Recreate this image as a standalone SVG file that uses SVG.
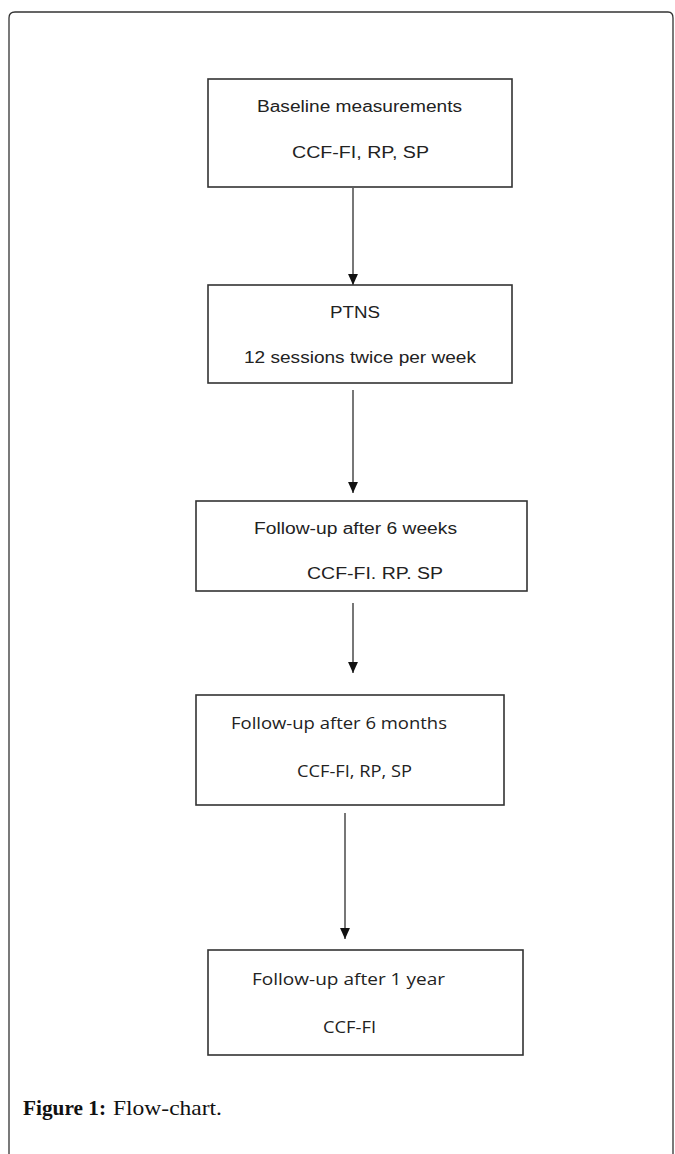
<svg xmlns="http://www.w3.org/2000/svg" width="675" height="1154" viewBox="0 0 675 1154">
<style>
.box{fill:#fff;stroke:#333;stroke-width:1.6}
.t{font-family:"Liberation Sans",Arial,sans-serif;font-size:16px;fill:#222}
.c{font-family:"Open Sans","Liberation Sans",sans-serif;font-size:15.5px;fill:#222}
.conn{stroke:#555;stroke-width:1.6;fill:none;marker-end:url(#ah)}
.cap{font-family:"Liberation Serif","Times New Roman",serif;font-size:21px;fill:#111}
</style>
<defs>
<marker id="ah" markerUnits="userSpaceOnUse" markerWidth="11" markerHeight="11" viewBox="0 0 10 10" refX="10" refY="5" orient="auto">
<path d="M0,0.5 L10,5 L0,9.5 Z" fill="#111"/>
</marker>
</defs>
<rect width="675" height="1154" fill="#fff"/>
<path d="M9,1154 V18 Q9,12 15,12 H668 Q673,12 673,18 V1154" fill="none" stroke="#333" stroke-width="1.3"/>
<g id="connectors">
<line class="conn" x1="353" y1="188" x2="353" y2="285"/>
<line class="conn" x1="353" y1="390" x2="353" y2="493"/>
<line class="conn" x1="353" y1="603" x2="353" y2="673"/>
<line class="conn" x1="345" y1="813" x2="345" y2="939"/>
</g>
<g id="n1">
<rect class="box" x="208" y="79" width="304" height="108"/>
<text class="t" x="257" y="112" textLength="205" lengthAdjust="spacingAndGlyphs">Baseline measurements</text>
<text class="t" x="292" y="158" textLength="137" lengthAdjust="spacingAndGlyphs">CCF-FI, RP, SP</text>
</g>
<g id="n2">
<rect class="box" x="208" y="285" width="304" height="98"/>
<text class="t" x="330" y="318" textLength="50" lengthAdjust="spacingAndGlyphs">PTNS</text>
<text class="t" x="244" y="363" textLength="232" lengthAdjust="spacingAndGlyphs">12 sessions twice per week</text>
</g>
<g id="n3">
<rect class="box" x="196" y="501" width="331" height="90"/>
<text class="t" x="254" y="534" textLength="203" lengthAdjust="spacingAndGlyphs">Follow-up after 6 weeks</text>
<text class="t" x="307" y="579" textLength="136" lengthAdjust="spacingAndGlyphs">CCF-FI. RP. SP</text>
</g>
<g id="n4">
<rect class="box" x="196" y="695" width="308" height="110"/>
<text class="c" x="231" y="729" textLength="216" lengthAdjust="spacingAndGlyphs">Follow-up after 6 months</text>
<text class="c" x="297" y="777" textLength="115" lengthAdjust="spacingAndGlyphs">CCF-FI, RP, SP</text>
</g>
<g id="n5">
<rect class="box" x="208" y="950" width="315" height="105"/>
<text class="c" x="252" y="985" textLength="193" lengthAdjust="spacingAndGlyphs">Follow-up after  1 year</text>
<text class="c" x="323" y="1033" textLength="53" lengthAdjust="spacingAndGlyphs">CCF-FI</text>
</g>
<text class="cap" x="23" y="1115" font-weight="bold" textLength="83" lengthAdjust="spacingAndGlyphs">Figure 1:</text>
<text class="cap" x="113" y="1115" textLength="109" lengthAdjust="spacingAndGlyphs">Flow-chart.</text>
</svg>
